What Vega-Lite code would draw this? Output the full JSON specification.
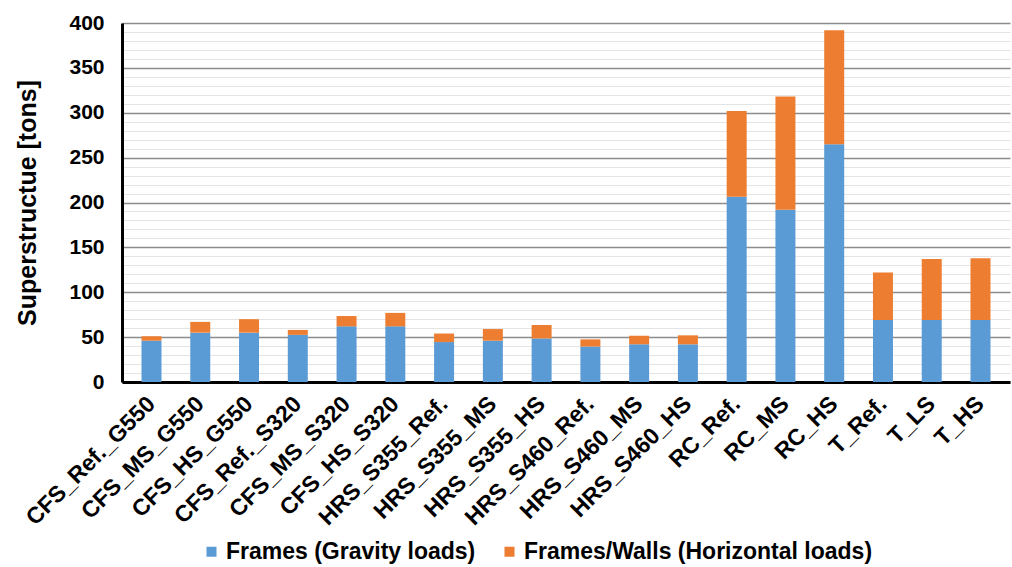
{
  "$schema": "https://vega.github.io/schema/vega-lite/v6.json",
  "width": 888,
  "height": 359,
  "autosize": {"type": "none"},
  "padding": {"left": 122, "top": 23, "right": 2, "bottom": 185},
  "background": "white",
  "config": {"view": {"stroke": null}, "font": "Liberation Sans"},
  "data": {
    "values": [
      {"case": "CFS_Ref._G550", "load": "Frames (Gravity loads)", "tons": 46},
      {"case": "CFS_Ref._G550", "load": "Frames/Walls (Horizontal loads)", "tons": 5},
      {"case": "CFS_MS_G550", "load": "Frames (Gravity loads)", "tons": 55},
      {"case": "CFS_MS_G550", "load": "Frames/Walls (Horizontal loads)", "tons": 12},
      {"case": "CFS_HS_G550", "load": "Frames (Gravity loads)", "tons": 55},
      {"case": "CFS_HS_G550", "load": "Frames/Walls (Horizontal loads)", "tons": 15},
      {"case": "CFS_Ref._S320", "load": "Frames (Gravity loads)", "tons": 52.5},
      {"case": "CFS_Ref._S320", "load": "Frames/Walls (Horizontal loads)", "tons": 5.5},
      {"case": "CFS_MS_S320", "load": "Frames (Gravity loads)", "tons": 62},
      {"case": "CFS_MS_S320", "load": "Frames/Walls (Horizontal loads)", "tons": 11.5},
      {"case": "CFS_HS_S320", "load": "Frames (Gravity loads)", "tons": 62},
      {"case": "CFS_HS_S320", "load": "Frames/Walls (Horizontal loads)", "tons": 15},
      {"case": "HRS_S355_Ref.", "load": "Frames (Gravity loads)", "tons": 44.5},
      {"case": "HRS_S355_Ref.", "load": "Frames/Walls (Horizontal loads)", "tons": 9.5},
      {"case": "HRS_S355_MS", "load": "Frames (Gravity loads)", "tons": 46},
      {"case": "HRS_S355_MS", "load": "Frames/Walls (Horizontal loads)", "tons": 13},
      {"case": "HRS_S355_HS", "load": "Frames (Gravity loads)", "tons": 48.5},
      {"case": "HRS_S355_HS", "load": "Frames/Walls (Horizontal loads)", "tons": 15},
      {"case": "HRS_S460_Ref.", "load": "Frames (Gravity loads)", "tons": 39.5},
      {"case": "HRS_S460_Ref.", "load": "Frames/Walls (Horizontal loads)", "tons": 8},
      {"case": "HRS_S460_MS", "load": "Frames (Gravity loads)", "tons": 42},
      {"case": "HRS_S460_MS", "load": "Frames/Walls (Horizontal loads)", "tons": 9.5},
      {"case": "HRS_S460_HS", "load": "Frames (Gravity loads)", "tons": 42},
      {"case": "HRS_S460_HS", "load": "Frames/Walls (Horizontal loads)", "tons": 10},
      {"case": "RC_Ref.", "load": "Frames (Gravity loads)", "tons": 206.5},
      {"case": "RC_Ref.", "load": "Frames/Walls (Horizontal loads)", "tons": 95.5},
      {"case": "RC_MS", "load": "Frames (Gravity loads)", "tons": 192},
      {"case": "RC_MS", "load": "Frames/Walls (Horizontal loads)", "tons": 126},
      {"case": "RC_HS", "load": "Frames (Gravity loads)", "tons": 265},
      {"case": "RC_HS", "load": "Frames/Walls (Horizontal loads)", "tons": 127},
      {"case": "T_Ref.", "load": "Frames (Gravity loads)", "tons": 69},
      {"case": "T_Ref.", "load": "Frames/Walls (Horizontal loads)", "tons": 53},
      {"case": "T_LS", "load": "Frames (Gravity loads)", "tons": 69},
      {"case": "T_LS", "load": "Frames/Walls (Horizontal loads)", "tons": 68},
      {"case": "T_HS", "load": "Frames (Gravity loads)", "tons": 69},
      {"case": "T_HS", "load": "Frames/Walls (Horizontal loads)", "tons": 69}
    ]
  },
  "mark": {"type": "bar"},
  "encoding": {
    "x": {
      "field": "case",
      "type": "nominal",
      "sort": null,
      "scale": {"paddingInner": 0.59, "paddingOuter": 0.4},
      "axis": {
        "title": null,
        "labelAngle": -45,
        "labelAlign": "right",
        "labelBaseline": "middle",
        "labelFontSize": 23,
        "labelFontWeight": "bold",
        "labelColor": "black",
        "labelPadding": 18,
        "labelOverlap": false,
        "labelLimit": 0,
        "ticks": false,
        "domainColor": "black",
        "domainWidth": 3
      }
    },
    "y": {
      "field": "tons",
      "type": "quantitative",
      "stack": "zero",
      "scale": {"domain": [0, 400], "nice": false},
      "axis": {
        "title": "Superstructue [tons]",
        "titleFontSize": 25,
        "titleFontWeight": "bold",
        "titleColor": "black",
        "titlePadding": 28,
        "values": [0,10,20,30,40,50,60,70,80,90,100,110,120,130,140,150,160,170,180,190,200,210,220,230,240,250,260,270,280,290,300,310,320,330,340,350,360,370,380,390,400],
        "labelExpr": "datum.value % 50 === 0 ? datum.label : ''",
        "labelOverlap": false,
        "labelFontSize": 21,
        "labelFontWeight": "bold",
        "labelColor": "black",
        "labelPadding": 18,
        "ticks": false,
        "domainColor": "black",
        "domainWidth": 3,
        "grid": true,
        "gridColor": {"condition": {"test": "datum.value % 50 === 0", "value": "#8c8c8c"}, "value": "#e4e4e4"},
        "gridWidth": {"condition": {"test": "datum.value % 50 === 0", "value": 1.6}, "value": 1}
      }
    },
    "order": {"field": "load", "sort": "ascending"},
    "color": {
      "field": "load",
      "type": "nominal",
      "scale": {
        "domain": ["Frames (Gravity loads)", "Frames/Walls (Horizontal loads)"],
        "range": ["#5B9BD5", "#ED7D31"]
      },
      "legend": {
        "title": null,
        "orient": "none",
        "legendX": 78,
        "legendY": 517,
        "direction": "horizontal",
        "symbolType": "square",
        "symbolSize": 100,
        "symbolStrokeWidth": 0,
        "labelFontSize": 23,
        "labelFontWeight": "bold",
        "labelColor": "black",
        "labelLimit": 0,
        "labelOffset": 3,
        "columnPadding": 22
      }
    }
  }
}
